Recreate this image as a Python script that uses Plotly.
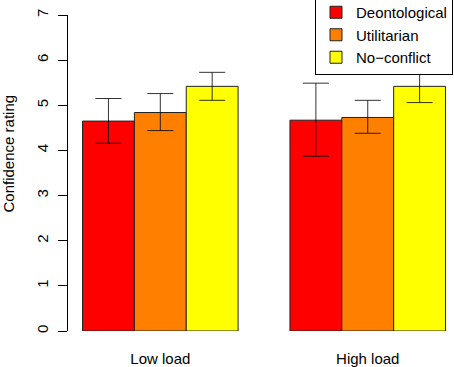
import plotly.graph_objects as go

groups = ["Low load", "High load"]
conditions = ["Deontological", "Utilitarian", "No\u2212conflict"]
colors = ["#FF0000", "#FF8000", "#FFFF00"]

deont_mean = [4.65, 4.67]
deont_upper = [5.15, 5.49]
deont_lower = [4.16, 3.87]
util_mean = [4.84, 4.73]
util_upper = [5.26, 5.11]
util_lower = [4.44, 4.38]
nocon_mean = [5.42, 5.42]
nocon_upper = [5.73, 5.77]
nocon_lower = [5.11, 5.06]

means = [deont_mean, util_mean, nocon_mean]
uppers = [deont_upper, util_upper, nocon_upper]
lowers = [deont_lower, util_lower, nocon_lower]

y_ticks = [0, 1, 2, 3, 4, 5, 6, 7]

FONT = "Liberation Sans, Arial, Helvetica, sans-serif"

fig = go.Figure()
for i, name in enumerate(conditions):
    xs = [g * 4 + i + 0.5 for g in range(len(groups))]
    m = means[i]
    fig.add_trace(go.Bar(
        x=xs, y=m, width=1, name=name,
        marker=dict(color=colors[i], line=dict(color="#222222", width=1)),
        error_y=dict(type="data", symmetric=False,
                     array=[u - v for u, v in zip(uppers[i], m)],
                     arrayminus=[v - l for v, l in zip(m, lowers[i])],
                     color="rgba(0,0,0,0.8)", thickness=1, width=13),
    ))

fig.update_layout(
    width=454, height=367,
    margin=dict(l=68, r=0, t=15, b=36, autoexpand=False),
    plot_bgcolor="white", paper_bgcolor="white",
    barmode="overlay",
    font=dict(family=FONT, size=15, color="black"),
    showlegend=True,
    legend=dict(x=(315 - 68) / 386, xanchor="left", y=(331 + 5) / 316, yanchor="top",
                bordercolor="black", borderwidth=1, bgcolor="white",
                font=dict(size=15), traceorder="normal"),
    xaxis=dict(range=[-0.28, -0.28 + 386 / 51.86], showgrid=False, zeroline=False,
               showline=False, ticks="", tickvals=[1.5, 5.5], ticktext=groups,
               ticklabelstandoff=17, fixedrange=True),
    yaxis=dict(range=[0, 7], showgrid=False, zeroline=False, showline=True,
               linecolor="black", linewidth=1, ticks="outside", ticklen=9,
               tickcolor="black", tickvals=y_ticks, tickangle=-90,
               ticklabelstandoff=4, fixedrange=True),
)
fig.add_annotation(text="Confidence rating", xref="paper", yref="paper",
                   x=-60 / 386, xanchor="center", y=(331 - 153.5) / 316, yanchor="middle",
                   textangle=-90, showarrow=False, font=dict(size=15))

fig.write_html("out.html", config={"displayModeBar": False},
               post_script="document.body.style.margin='0';document.body.style.overflow='hidden';")
